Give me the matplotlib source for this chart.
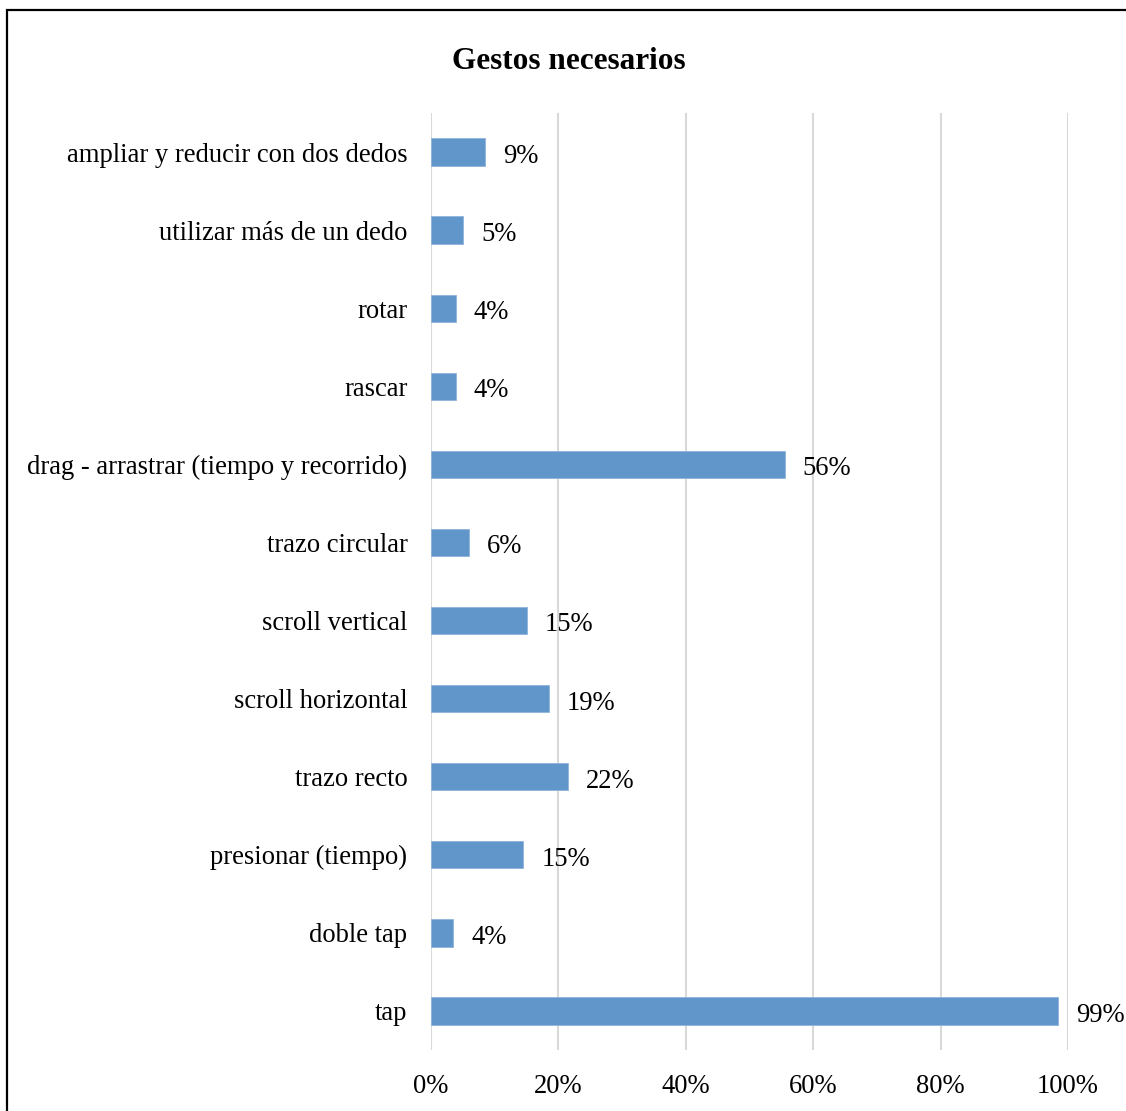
import matplotlib
matplotlib.use("Agg")
import matplotlib.pyplot as plt
from matplotlib.patches import Rectangle
from matplotlib.ticker import PercentFormatter

plt.rcParams['font.family'] = ['Liberation Serif', 'DejaVu Serif']

# data, bottom to top as drawn
gestos = ['tap', 'doble tap', 'presionar (tiempo)', 'trazo recto', 'scroll horizontal',
          'scroll vertical', 'trazo circular', 'drag - arrastrar (tiempo y recorrido)',
          'rascar', 'rotar', 'utilizar más de un dedo', 'ampliar y reducir con dos dedos']
valores = [0.985, 0.035, 0.145, 0.215, 0.185, 0.15, 0.06, 0.555, 0.039, 0.039, 0.05, 0.085]
etiquetas = ['99%', '4%', '15%', '22%', '19%', '15%', '6%', '56%', '4%', '4%', '5%', '9%']
xticks = [0, 0.2, 0.4, 0.6, 0.8, 1.0]

fs = 19.2

fig = plt.figure(figsize=(11.26, 11.11), dpi=100)
ax = fig.add_axes([431/1126, 1-1050/1111, (1068-431)/1126, (1050-113)/1111])

bars = ax.barh(range(len(gestos)), valores, height=0.35, color='#6096C9',
               edgecolor='#8FB5DC', linewidth=0.6, zorder=3)

for b, lab in zip(bars, etiquetas):
    ax.annotate(lab, (b.get_width(), b.get_y() + b.get_height()/2),
                xytext=(13, -1), textcoords='offset points',
                va='center_baseline', ha='left', fontsize=fs, clip_on=False)

ax.set_xlim(0, 1.0)
ax.set_ylim(-0.5, len(gestos) - 0.5)
ax.set_xticks(xticks)
ax.xaxis.set_major_formatter(PercentFormatter(1.0, decimals=0))
ax.set_yticks(range(len(gestos)))
ax.set_yticklabels(gestos, va='center_baseline')
ax.tick_params(axis='both', length=0, labelsize=fs)
ax.tick_params(axis='y', pad=17)
ax.tick_params(axis='x', pad=17)
ax.grid(axis='x', color='#D9D9D9', linewidth=1.5, zorder=0)
for s in ax.spines.values():
    s.set_visible(False)

fig.text(569/1126, 1-58/1111, 'Gestos necesarios', ha='center', va='center_baseline',
         fontsize=22.5, fontweight='bold')

# outer border of the chart area
fig.patches.append(Rectangle((6.5/1126, -0.05), 1.2, 1-10/1111+0.05,
                             transform=fig.transFigure, fill=False,
                             edgecolor='black', linewidth=1.6))

fig.savefig('out.png', dpi=100)
